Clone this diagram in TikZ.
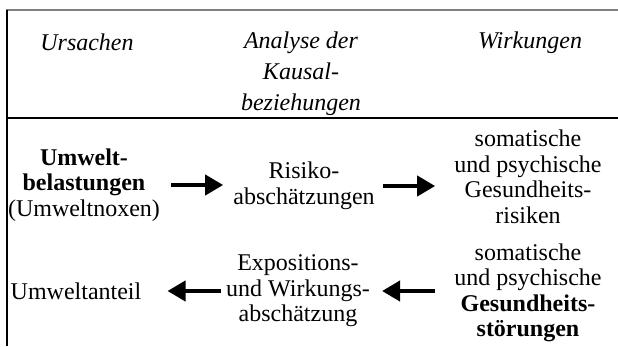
\documentclass[tikz,border=0pt]{standalone}
\usepackage{fontspec}
\setmainfont{Liberation Serif}
\usetikzlibrary{arrows.meta}
\begin{document}
\begin{tikzpicture}[
  x=1pt, y=1pt,
  every node/.style={align=center, inner sep=0pt, font=\fontsize{24}{25.5}\selectfont},
  head/.style={font=\fontsize{24}{31}\selectfont\itshape},
  rule/.style={line width=1.5pt},
  arr/.style={line width=4pt, -{Triangle[length=18pt,width=20pt]}}
  ]
  \useasboundingbox (0,0) rectangle (618,-346);

  % Frame
  \draw[rule, gray] (6,-10) -- (618,-10);
  \draw[rule] (7,-10) -- (7,-346);
  \draw[rule] (7,-118) -- (618,-118);

  % Header
  \node[head] (ursachen) at (87,-42.5) {Ursachen};
  \node[head] (analyse) at (301,-74) {Analyse der\\Kausal-\\beziehungen};
  \node[head] (wirkungen) at (530,-42.5) {Wirkungen};

  % Upper row
  \node (belastung) at (84,-185) {\textbf{Umwelt-}\\\textbf{belastungen}\\(Umweltnoxen)};
  \node (risiko) at (304,-186) {Risiko-\\abschätzungen};
  \node (grisiko) at (528,-177) {somatische\\und psychische\\Gesundheits-\\risiken};

  % Lower row
  \node (anteil) at (76,-291) {Umweltanteil};
  \node (exposition) at (298,-291) {Expositions-\\und Wirkungs-\\abschätzung};
  \node (gstoerung) at (528,-293) {somatische\\und psychische\\\textbf{Gesundheits-}\\\textbf{störungen}};

  % Arrows
  \draw[arr] ([xshift=11pt]belastung.east) -- ([xshift=-10pt]belastung.east -| risiko.west);
  \draw[arr] ([xshift=8pt]risiko.east) -- ([xshift=-19pt]risiko.east -| grisiko.west);
  \draw[arr] ([xshift=-5pt]exposition.west) -- ([xshift=26pt]exposition.west -| anteil.east);
  \draw[arr] ([xshift=-19pt]exposition.east -| gstoerung.west) -- ([xshift=12pt]exposition.east);
\end{tikzpicture}
\end{document}
